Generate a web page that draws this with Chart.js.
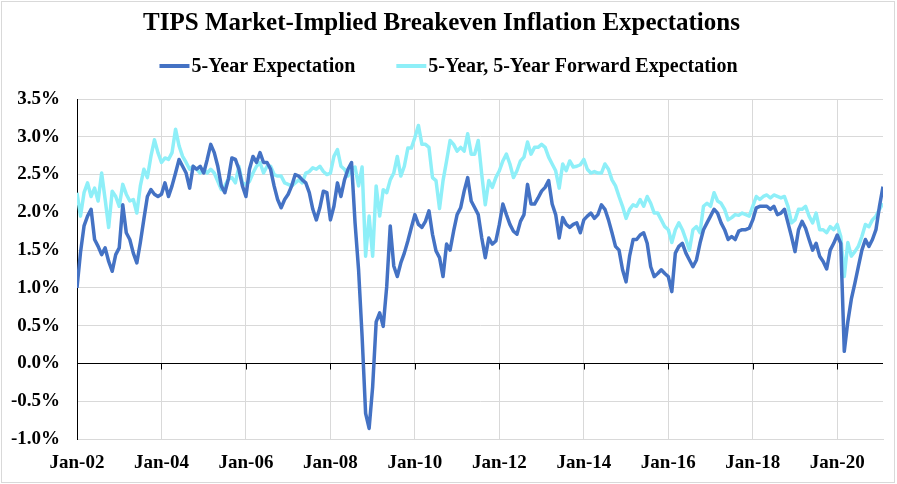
<!DOCTYPE html>
<html>
<head>
<meta charset="utf-8">
<title>TIPS Breakeven</title>
<script src="https://cdn.jsdelivr.net/npm/chart.js@4.4.1/dist/chart.umd.min.js"></script>
<style>
    html, body { margin: 0; padding: 0; background: #fff; }
    canvas { display: block; }
</style>
</head>
<body>
<canvas id="tipsChart" width="897" height="484"></canvas>
<script>
// monthly readings, first point = Jan 2002 (one row per year)
const firstYear = 2002;

const fiveYear = [
    1.00, 1.47, 1.82, 1.95, 2.04, 1.64, 1.55, 1.44, 1.53, 1.35, 1.22, 1.44,
    1.53, 2.10, 1.73, 1.64, 1.46, 1.33, 1.60, 1.91, 2.21, 2.30, 2.24, 2.21,
    2.24, 2.39, 2.21, 2.35, 2.52, 2.70, 2.61, 2.52, 2.32, 2.61, 2.57, 2.61,
    2.52, 2.70, 2.90, 2.79, 2.61, 2.35, 2.26, 2.44, 2.72, 2.70, 2.57, 2.35,
    2.21, 2.57, 2.74, 2.66, 2.79, 2.66, 2.66, 2.57, 2.35, 2.17, 2.06, 2.17,
    2.24, 2.35, 2.50, 2.48, 2.43, 2.39, 2.26, 2.04, 1.90, 2.06, 2.28, 2.26,
    1.90, 2.08, 2.39, 2.21, 2.43, 2.57, 2.66, 1.86, 1.24, 0.36, -0.66, -0.86,
    -0.31, 0.55, 0.67, 0.49, 1.02, 1.82, 1.29, 1.15, 1.33, 1.46, 1.62, 1.80,
    1.97, 1.84, 1.80, 1.88, 2.02, 1.71, 1.49, 1.40, 1.15, 1.58, 1.50, 1.75,
    1.97, 2.06, 2.28, 2.46, 2.15, 2.06, 1.97, 1.66, 1.40, 1.66, 1.58, 1.62,
    1.84, 2.11, 1.97, 1.84, 1.75, 1.71, 1.88, 1.97, 2.37, 2.11, 2.11, 2.19,
    2.28, 2.33, 2.42, 2.11, 1.97, 1.66, 1.93, 1.84, 1.80, 1.84, 1.86, 1.73,
    1.90, 1.95, 1.99, 1.92, 1.97, 2.10, 2.04, 1.90, 1.73, 1.55, 1.50, 1.24,
    1.08, 1.42, 1.64, 1.64, 1.70, 1.73, 1.59, 1.28, 1.15, 1.19, 1.24, 1.19,
    1.15, 0.95, 1.46, 1.55, 1.59, 1.46, 1.37, 1.28, 1.37, 1.59, 1.77, 1.86,
    1.95, 2.04, 1.99, 1.86, 1.77, 1.64, 1.68, 1.64, 1.75, 1.77, 1.77, 1.79,
    1.90, 2.06, 2.08, 2.08, 2.08, 2.04, 2.08, 1.97, 1.99, 2.04, 1.86, 1.68,
    1.48, 1.77, 1.88, 1.79, 1.64, 1.50, 1.59, 1.42, 1.35, 1.25, 1.50, 1.59,
    1.70, 1.59, 0.16, 0.55, 0.85, 1.06, 1.28, 1.50, 1.64, 1.55, 1.64, 1.77,
    2.08, 2.34
];

const fiveFiveForward = [
    2.26, 1.95, 2.26, 2.39, 2.21, 2.32, 2.15, 2.52, 2.17, 1.80, 2.28, 2.21,
    2.08, 2.37, 2.24, 2.15, 2.17, 1.99, 2.35, 2.57, 2.46, 2.74, 2.96, 2.79,
    2.66, 2.72, 2.70, 2.79, 3.10, 2.88, 2.74, 2.66, 2.57, 2.61, 2.57, 2.52,
    2.57, 2.52, 2.57, 2.52, 2.41, 2.30, 2.35, 2.44, 2.46, 2.39, 2.61, 2.39,
    2.37, 2.41, 2.52, 2.61, 2.66, 2.52, 2.61, 2.61, 2.50, 2.48, 2.48, 2.39,
    2.37, 2.35, 2.39, 2.43, 2.39, 2.52, 2.54, 2.59, 2.57, 2.61, 2.54, 2.50,
    2.52, 2.74, 2.83, 2.61, 2.57, 2.48, 2.57, 2.60, 2.35, 2.60, 1.42, 1.95,
    1.42, 2.35, 1.95, 2.30, 2.26, 2.43, 2.52, 2.74, 2.48, 2.61, 2.85, 2.85,
    2.99, 3.15, 2.90, 2.90, 2.86, 2.46, 2.42, 2.05, 2.42, 2.68, 2.95, 2.90,
    2.81, 2.86, 2.81, 3.04, 2.77, 2.77, 2.95, 2.50, 2.10, 2.42, 2.33, 2.46,
    2.55, 2.68, 2.77, 2.64, 2.46, 2.55, 2.68, 2.73, 2.93, 2.77, 2.86, 2.86,
    2.90, 2.86, 2.73, 2.64, 2.55, 2.32, 2.64, 2.55, 2.68, 2.60, 2.61, 2.63,
    2.70, 2.57, 2.52, 2.54, 2.52, 2.52, 2.64, 2.57, 2.43, 2.35, 2.21, 2.08,
    1.92, 2.04, 2.10, 2.08, 2.17, 2.08, 2.21, 2.12, 1.99, 1.99, 1.90, 1.81,
    1.77, 1.60, 1.77, 1.86, 1.77, 1.64, 1.50, 1.77, 1.81, 1.73, 2.08, 2.12,
    2.08, 2.26, 2.15, 2.12, 2.04, 1.90, 1.93, 1.97, 1.96, 1.99, 1.97, 1.95,
    2.08, 2.21, 2.17, 2.21, 2.23, 2.19, 2.23, 2.21, 2.19, 2.21, 2.08, 1.86,
    1.90, 2.04, 2.04, 2.08, 1.95, 1.86, 1.99, 1.77, 1.77, 1.73, 1.81, 1.77,
    1.84, 1.68, 1.15, 1.60, 1.42, 1.48, 1.55, 1.68, 1.84, 1.81, 1.90, 1.95,
    2.04, 2.12
];

const tickMonths = [0, 24, 48, 72, 96, 120, 144, 168, 192, 216];
const tickLabels = ["Jan-02", "Jan-04", "Jan-06", "Jan-08", "Jan-10", "Jan-12", "Jan-14", "Jan-16", "Jan-18", "Jan-20"];
const seriesNames = ["5-Year Expectation", "5-Year, 5-Year Forward Expectation"];

const FONT = "'Liberation Serif', 'Times New Roman', serif";
const GRID = "#d9d9d9";

// month index -> "YYYY-MM", x value is the index
const months = fiveYear.map((_, i) => (firstYear + Math.floor(i / 12)) + "-" + String(i % 12 + 1).padStart(2, "0"));

function toPoints(values) {
    return values.map((v, i) => ({ x: i, y: v }));
}

const framePlugin = {
    id: "frame",
    beforeDraw(chart) {
        const ctx = chart.ctx;
        ctx.save();
        ctx.fillStyle = "#fff";
        ctx.fillRect(0, 0, chart.width, chart.height);
        ctx.strokeStyle = GRID;
        ctx.lineWidth = 1;
        ctx.strokeRect(1.5, 1.5, chart.width - 4, chart.height - 3);
        ctx.restore();
    }
};

// black horizontal axis crossing at 0 with tick marks below it
const zeroAxisPlugin = {
    id: "zeroAxis",
    beforeDatasetsDraw(chart) {
        const { ctx, chartArea, scales } = chart;
        const y0 = Math.round(scales.y.getPixelForValue(0)) + 0.5;
        ctx.save();
        ctx.strokeStyle = "#000";
        ctx.lineWidth = 1;
        ctx.beginPath();
        ctx.moveTo(chartArea.left, y0);
        ctx.lineTo(chartArea.right, y0);
        for (const m of tickMonths) {
            const x = Math.round(scales.x.getPixelForValue(m)) + 0.5;
            ctx.moveTo(x, y0);
            ctx.lineTo(x, y0 + 6);
        }
        ctx.stroke();
        ctx.restore();
    }
};

// legend with line samples sitting right against the text
const lineLegendPlugin = {
    id: "lineLegend",
    afterDraw(chart) {
        const ctx = chart.ctx;
        ctx.save();
        ctx.font = "bold 20px " + FONT;
        ctx.textBaseline = "middle";
        const sample = 30, gap = 2, between = 41, y = 66;
        const items = chart.data.datasets.map(ds => ({
            text: ds.label,
            color: ds.borderColor,
            w: ctx.measureText(ds.label).width
        }));
        const total = items.reduce((s, it) => s + sample + gap + it.w, 0) + between * (items.length - 1);
        let x = (chart.width - total) / 2;
        for (const it of items) {
            ctx.strokeStyle = it.color;
            ctx.lineWidth = 4;
            ctx.beginPath();
            ctx.moveTo(x, y);
            ctx.lineTo(x + sample, y);
            ctx.stroke();
            ctx.fillStyle = "#000";
            ctx.fillText(it.text, x + sample + gap, y + 1);
            x += sample + gap + it.w + between;
        }
        ctx.restore();
    }
};

const ctx = document.getElementById("tipsChart").getContext("2d");
new Chart(ctx, {
    type: "line",
    data: {
        labels: months,
        datasets: [
            {
                label: seriesNames[0],
                data: toPoints(fiveYear),
                borderColor: "#4472C4",
                borderWidth: 3.5,
                pointRadius: 0,
                tension: 0,
                fill: false,
                borderJoinStyle: "round"
            },
            {
                label: seriesNames[1],
                data: toPoints(fiveFiveForward),
                borderColor: "#8EEFF8",
                borderWidth: 3.5,
                pointRadius: 0,
                tension: 0,
                fill: false,
                borderJoinStyle: "round"
            }
        ]
    },
    options: {
        responsive: false,
        animation: false,
        devicePixelRatio: 1,
        layout: { padding: { left: 0, right: 14, top: 0, bottom: 0 } },
        plugins: {
            legend: { display: false },
            tooltip: { enabled: false },
            title: {
                display: true,
                text: "TIPS Market-Implied Breakeven Inflation Expectations",
                color: "#000",
                font: { family: FONT, size: 25, weight: "bold", lineHeight: 1 },
                padding: { top: 11, bottom: 63 }
            }
        },
        scales: {
            x: {
                type: "linear",
                min: 0,
                max: 229,
                afterBuildTicks: axis => { axis.ticks = tickMonths.map(v => ({ value: v })); },
                afterFit: axis => { axis.height = 45; },
                grid: { color: GRID, drawTicks: false },
                border: { color: GRID },
                ticks: {
                    autoSkip: false,
                    maxRotation: 0,
                    padding: 13,
                    color: "#000",
                    font: { family: FONT, size: 19, weight: "bold" },
                    callback: (value, index) => tickLabels[index]
                }
            },
            y: {
                min: -1,
                max: 3.5,
                afterFit: axis => { axis.width = 77; },
                grid: { color: GRID, drawTicks: false },
                border: { color: "#000" },
                ticks: {
                    stepSize: 0.5,
                    padding: 17,
                    color: "#000",
                    font: { family: FONT, size: 19, weight: "bold" },
                    callback: value => value.toFixed(1) + "%"
                }
            }
        }
    },
    plugins: [framePlugin, zeroAxisPlugin, lineLegendPlugin]
});
</script>
</body>
</html>
